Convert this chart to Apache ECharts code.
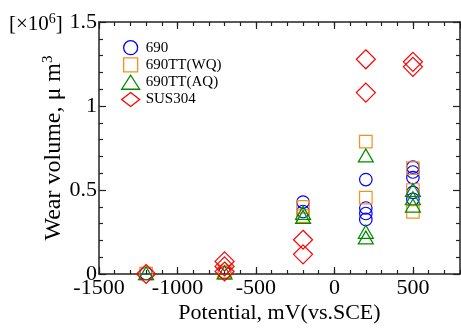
<!DOCTYPE html>
<html>
<head>
<meta charset="utf-8">
<script src="https://cdn.jsdelivr.net/npm/echarts@6/dist/echarts.min.js"></script>
<style>
  html, body { margin: 0; padding: 0; background: #fff; }
  #chart { width: 461px; height: 329px; }
</style>
</head>
<body>
<div id="chart"></div>
<script>
// potential (mV vs SCE) / wear volume (x10^6 um^3)
var alloy690 = [[-1200, 0.003], [-700, 0.008], [-200, 0.428], [-200, 0.372],
	[200, 0.562], [200, 0.393], [200, 0.36], [200, 0.325],
	[500, 0.636], [500, 0.607], [500, 0.574], [500, 0.486], [500, 0.445]];
var alloy690WQ = [[-1200, 0.002], [-700, 0.005], [-700, 0.015], [-200, 0.40], [-200, 0.345],
	[200, 0.788], [200, 0.455], [500, 0.63], [500, 0.50], [500, 0.37]];
var alloy690AQ = [[-1200, 0.005], [-700, 0.01], [-200, 0.364], [-200, 0.34],
	[200, 0.706], [200, 0.251], [200, 0.218], [500, 0.50], [500, 0.451], [500, 0.407]];
var sus304 = [[-1200, 0.0], [-700, 0.075], [-700, 0.045], [-700, 0.015], [-200, 0.204], [-200, 0.117],
	[200, 1.278], [200, 1.08], [500, 1.263], [500, 1.233]];
var seriesNames = ['690', '690TT(WQ)', '690TT(AQ)', 'SUS304'];
var seriesColors = ['#0000ff', '#f7901e', '#008a00', '#ff0000'];

var myChart = echarts.init(document.getElementById('chart'));
var font = '"Liberation Serif", "Times New Roman", serif';
var lineCol = '#222';
var squarePath = 'path://M0,0H10V10H0Z';

function xAx(pos, step, len, withLabel, withLine) {
	return {
		type: 'value', position: pos, min: -1500, max: 800, interval: step,
		axisLine: { show: withLine, onZero: false, lineStyle: { color: lineCol, width: 1.5 } },
		axisTick: { show: true, inside: true, length: len, lineStyle: { color: lineCol, width: 1.2 } },
		axisLabel: {
			show: withLabel, margin: 3, color: '#000', fontFamily: font, fontSize: 22,
			showMaxLabel: false,
			formatter: function (v) { return v % 500 === 0 ? String(v) : ''; }
		},
		splitLine: { show: false }
	};
}
function yAx(pos, withLabel) {
	return {
		type: 'value', position: pos, min: 0, max: 1.5, interval: 0.5,
		axisLine: { show: true, onZero: false, lineStyle: { color: lineCol, width: 1.5 } },
		axisTick: { show: true, inside: true, length: 7, lineStyle: { color: lineCol, width: 1.2 } },
		minorTick: { show: true, splitNumber: 5, length: 4, lineStyle: { color: lineCol, width: 1.2 } },
		axisLabel: { show: withLabel, margin: 2, color: '#000', fontFamily: font, fontSize: 22 },
		splitLine: { show: false }
	};
}

var xAxes = [xAx('bottom', 500, 7, true, true), xAx('bottom', 100, 4, false, false),
	xAx('top', 500, 7, false, true), xAx('top', 100, 4, false, false)];
xAxes[0].name = 'Potential, mV(vs.SCE)';
xAxes[0].nameLocation = 'middle';
xAxes[0].nameGap = 28;
xAxes[0].nameMoveOverlap = false;
xAxes[0].nameTextStyle = { color: '#000', fontFamily: font, fontSize: 22 };

var yAxes = [yAx('left', true), yAx('right', false)];
yAxes[0].name = 'Wear volume, μ m{sup|3}';
yAxes[0].nameLocation = 'middle';
yAxes[0].nameGap = 32;
yAxes[0].nameMoveOverlap = false;
yAxes[0].nameTextStyle = {
	color: '#000', fontFamily: font, fontSize: 24,
	rich: { sup: { fontFamily: font, fontSize: 15, verticalAlign: 'top', color: '#000', padding: [0, 0, 11, 0] } }
};

function mk(name, data, symbol, size, color) {
	return {
		name: name, type: 'scatter', data: data, symbol: symbol, symbolSize: size,
		itemStyle: { color: 'transparent', borderColor: color, borderWidth: 1.2, opacity: 1 },
		emphasis: { disabled: true }
	};
}

var legendIcons = ['circle', squarePath, 'triangle', 'diamond'];
var legendData = [];
for (var i = 0; i < seriesNames.length; i++) {
	legendData.push({
		name: seriesNames[i],
		icon: legendIcons[i],
		itemStyle: { color: 'transparent', borderColor: seriesColors[i], borderWidth: 1.3 }
	});
}

myChart.setOption({
	animation: false,
	grid: { left: 99, right: 1, top: 22, bottom: 50 },
	graphic: [{
		type: 'text', left: 9, top: 12,
		style: {
			text: '[×10{sup|6}]', fill: '#000', font: '21px ' + font,
			rich: { sup: { fontSize: 14, fontFamily: font, fill: '#000', padding: [0, 0, 10, 0] } }
		}
	}],
	legend: {
		orient: 'vertical', left: 116, top: 35, itemWidth: 18, itemHeight: 14, itemGap: 2,
		data: legendData,
		textStyle: { color: '#000', fontFamily: font, fontSize: 15, padding: [0, 0, 0, 1] }
	},
	xAxis: xAxes,
	yAxis: yAxes,
	series: [
		mk(seriesNames[0], alloy690, 'circle', 12.5, seriesColors[0]),
		mk(seriesNames[1], alloy690WQ, squarePath, 12.5, seriesColors[1]),
		mk(seriesNames[2], alloy690AQ, 'triangle', [15, 13], seriesColors[2]),
		mk(seriesNames[3], sus304, 'diamond', 19, seriesColors[3])
	]
});
</script>
</body>
</html>
